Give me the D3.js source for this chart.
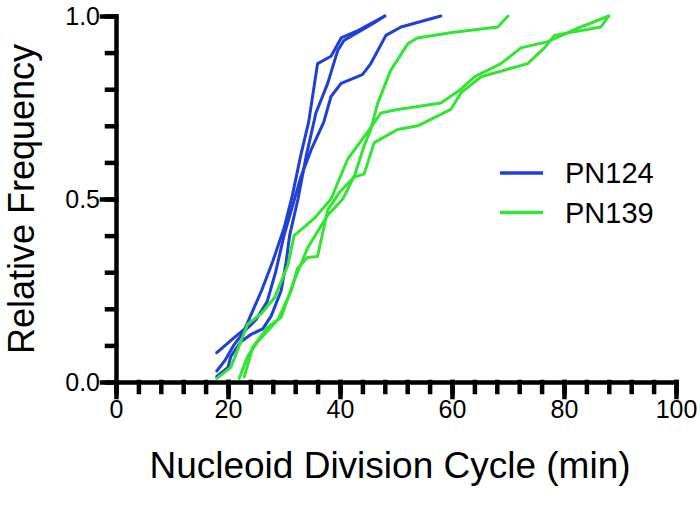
<!DOCTYPE html>
<html>
<head>
<meta charset="utf-8">
<script src="https://cdn.jsdelivr.net/npm/d3@7"></script>
<style>
  body { margin: 0; background: #fff; }
  svg { display: block; }
</style>
</head>
<body>
<div id="chart"></div>
<script>
// series: x = nucleoid division cycle (min), y = cumulative relative frequency
const pn124A_x = [18, 21, 23, 24, 26, 28, 30, 31.5, 33, 34.4, 36, 38.4, 40.2, 43.2, 48];
const pn124A_y = [0.08, 0.12, 0.145, 0.18, 0.25, 0.33, 0.42, 0.51, 0.62, 0.71, 0.87, 0.89, 0.94, 0.96, 1.0];
const pn124B_x = [18, 20, 20.5, 22.3, 24.1, 26.2, 27.7, 29.5, 30.4, 31, 32.5, 34, 35.7, 37.8, 39.6, 40.7, 46, 48];
const pn124B_y = [0.015, 0.04, 0.07, 0.11, 0.13, 0.145, 0.18, 0.25, 0.33, 0.4, 0.5, 0.62, 0.735, 0.816, 0.906, 0.933, 0.98, 1.0];
const pn124C_x = [18, 19.5, 21, 23, 25, 27, 28.5, 30, 31.5, 33, 35, 37.1, 38.4, 40.2, 44, 45.5, 48.2, 50.9, 58];
const pn124C_y = [0.03, 0.06, 0.1, 0.14, 0.17, 0.22, 0.3, 0.4, 0.48, 0.56, 0.64, 0.71, 0.78, 0.816, 0.84, 0.87, 0.947, 0.97, 1.0];

const pn139A_x = [22.9, 24.4, 27.1, 29.5, 31.8, 34.2, 37.8, 40.5, 42.6, 44.3, 45.5, 46.7, 49, 52.1, 53.8, 60, 68.2, 70];
const pn139A_y = [0.014, 0.095, 0.15, 0.177, 0.276, 0.366, 0.456, 0.5, 0.564, 0.645, 0.69, 0.76, 0.85, 0.924, 0.94, 0.955, 0.97, 1.0];
const pn139B_x = [18, 20.5, 23.5, 25.9, 28.3, 30.7, 31.8, 35.4, 38.4, 41.4, 45.5, 47.3, 50, 58, 61.6, 64, 68.75, 72.3, 77.1, 83, 88];
const pn139B_y = [0.01, 0.04, 0.158, 0.186, 0.23, 0.32, 0.40, 0.447, 0.5, 0.61, 0.695, 0.735, 0.744, 0.762, 0.8, 0.834, 0.87, 0.913, 0.93, 0.97, 1.0];
const pn139C_x = [22, 23.5, 25.3, 28.9, 31.3, 32.4, 34.2, 36, 37.8, 40, 42.5, 44.3, 46.1, 50.3, 53.9, 59.8, 61.6, 65.2, 73.5, 76.5, 78.3, 86.6, 88];
const pn139C_y = [0.01, 0.07, 0.11, 0.17, 0.25, 0.31, 0.34, 0.343, 0.47, 0.52, 0.56, 0.568, 0.654, 0.69, 0.70, 0.745, 0.79, 0.834, 0.87, 0.913, 0.947, 0.97, 1.0];

const seriesNames = ["PN124", "PN139"];
const xMajorTicks = [0, 20, 40, 60, 80, 100];
const yMajorTicks = [0, 0.5, 1.0];
const xLabel = "Nucleoid Division Cycle (min)";
const yLabel = "Relative Frequency";

const config = {
  width: 700,
  height: 516,
  plot: {left: 116, right: 676, top: 16, bottom: 382},
  font: "'Liberation Sans', Arial, Helvetica, sans-serif",
  colors: {PN124: "#1f3fd8", PN139: "#33e533"},
  axisWidth: 4.5,
  lineWidth: 3
};

const curves = [
  {name: "PN124", x: pn124A_x, y: pn124A_y},
  {name: "PN124", x: pn124B_x, y: pn124B_y},
  {name: "PN124", x: pn124C_x, y: pn124C_y},
  {name: "PN139", x: pn139A_x, y: pn139A_y},
  {name: "PN139", x: pn139B_x, y: pn139B_y},
  {name: "PN139", x: pn139C_x, y: pn139C_y}
];

const svg = d3.select("#chart")
  .append("svg")
  .attr("width", config.width)
  .attr("height", config.height)
  .attr("viewBox", [0, 0, config.width, config.height]);

const xScale = d3.scaleLinear([0, 100], [config.plot.left, config.plot.right]);
const yScale = d3.scaleLinear([0, 1], [config.plot.bottom, config.plot.top]);

const styleAxis = g => {
  g.selectAll("path, line")
    .attr("stroke", "#000")
    .attr("stroke-width", config.axisWidth)
    .attr("stroke-linecap", "square");
  g.selectAll("text")
    .attr("fill", "#000")
    .attr("font-family", config.font)
    .attr("font-size", 25);
};

// minor ticks
svg.append("g")
  .attr("transform", `translate(0,${config.plot.bottom})`)
  .call(d3.axisBottom(xScale).tickValues(d3.range(0, 101, 4)).tickSize(10).tickSizeOuter(0).tickFormat(""))
  .call(styleAxis);

svg.append("g")
  .attr("transform", `translate(${config.plot.left},0)`)
  .call(d3.axisLeft(yScale).tickValues(d3.range(0, 11).map(d => d / 10)).tickSize(9).tickSizeOuter(0).tickFormat(""))
  .call(styleAxis);

// major ticks + labels
svg.append("g")
  .attr("transform", `translate(0,${config.plot.bottom})`)
  .call(d3.axisBottom(xScale).tickValues(xMajorTicks).tickSize(15).tickPadding(3).tickFormat(d3.format("d")))
  .call(g => g.select(".domain").remove())
  .call(styleAxis);

svg.append("g")
  .attr("transform", `translate(${config.plot.left},0)`)
  .call(d3.axisLeft(yScale).tickValues(yMajorTicks).tickSize(14).tickPadding(2).tickFormat(d3.format(".1f")))
  .call(g => g.select(".domain").remove())
  .call(styleAxis);

// axis titles
svg.append("text")
  .attr("x", 390)
  .attr("y", 478)
  .attr("text-anchor", "middle")
  .attr("font-family", config.font)
  .attr("font-size", 37)
  .text(xLabel);

svg.append("text")
  .attr("transform", `translate(34,${(config.plot.top + config.plot.bottom) / 2}) rotate(-90)`)
  .attr("text-anchor", "middle")
  .attr("font-family", config.font)
  .attr("font-size", 36)
  .text(yLabel);

// curves
const line = d3.line()
  .x(d => xScale(d[0]))
  .y(d => yScale(d[1]));

svg.append("g")
  .attr("fill", "none")
  .attr("stroke-width", config.lineWidth)
  .attr("stroke-linejoin", "round")
  .attr("stroke-linecap", "round")
  .selectAll("path")
  .data(curves)
  .join("path")
  .attr("stroke", c => config.colors[c.name])
  .attr("d", c => line(c.x.map((x, i) => [x, c.y[i]])));

// legend
const legend = svg.append("g")
  .selectAll("g")
  .data(seriesNames)
  .join("g")
  .attr("transform", (d, i) => `translate(500,${173 + i * 39.5})`);

legend.append("line")
  .attr("x1", 0)
  .attr("x2", 43)
  .attr("stroke", d => config.colors[d])
  .attr("stroke-width", 3.5);

legend.append("text")
  .attr("x", 65)
  .attr("y", 10)
  .attr("font-family", config.font)
  .attr("font-size", 29)
  .text(d => d);
</script>
</body>
</html>
